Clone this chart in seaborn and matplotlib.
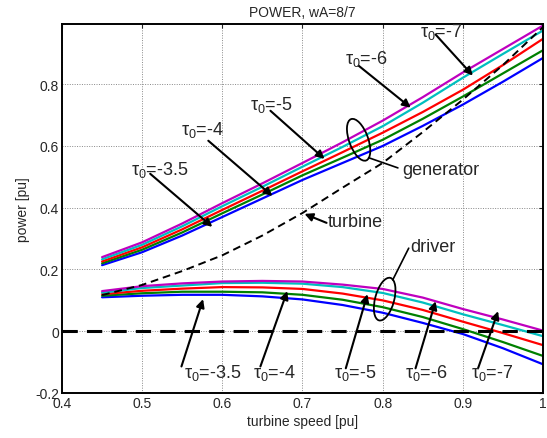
import numpy as np
import pandas as pd
import matplotlib
matplotlib.use("Agg")
import matplotlib.pyplot as plt
from matplotlib.patches import Ellipse
from matplotlib.transforms import IdentityTransform
import seaborn as sns

# ---- data ----
speed = [0.45, 0.50, 0.55, 0.60, 0.65, 0.70, 0.75, 0.80, 0.85, 0.90, 0.95, 1.00]
tau_labels = ["-3.5", "-4", "-5", "-6", "-7"]
colors = ["#0000FF", "#008000", "#FF0000", "#00BFBF", "#BF00BF"]

gen_m35 = [0.214, 0.256, 0.310, 0.370, 0.430, 0.490, 0.545, 0.600, 0.665, 0.734, 0.808, 0.885]
gen_m4 = [0.220, 0.264, 0.320, 0.382, 0.443, 0.505, 0.562, 0.620, 0.688, 0.760, 0.835, 0.910]
gen_m5 = [0.226, 0.272, 0.330, 0.393, 0.455, 0.518, 0.580, 0.643, 0.710, 0.782, 0.862, 0.947]
gen_m6 = [0.233, 0.280, 0.340, 0.405, 0.468, 0.533, 0.597, 0.664, 0.740, 0.821, 0.898, 0.974]
gen_m7 = [0.240, 0.288, 0.349, 0.415, 0.479, 0.545, 0.612, 0.682, 0.758, 0.838, 0.914, 0.990]

drv_m35 = [0.110, 0.115, 0.118, 0.118, 0.113, 0.103, 0.085, 0.060, 0.027, -0.009, -0.055, -0.107]
drv_m4 = [0.115, 0.123, 0.128, 0.128, 0.126, 0.118, 0.102, 0.078, 0.046, 0.007, -0.035, -0.080]
drv_m5 = [0.120, 0.131, 0.138, 0.143, 0.142, 0.137, 0.122, 0.100, 0.069, 0.031, -0.006, -0.045]
drv_m6 = [0.125, 0.140, 0.148, 0.156, 0.157, 0.154, 0.143, 0.124, 0.093, 0.055, 0.020, -0.016]
drv_m7 = [0.130, 0.146, 0.155, 0.161, 0.163, 0.161, 0.151, 0.137, 0.109, 0.072, 0.038, 0.002]

turbine = [0.117, 0.150, 0.195, 0.246, 0.310, 0.383, 0.465, 0.545, 0.645, 0.750, 0.862, 0.985]

zero_x = [0.4, 1.0]
zero_y = [0.0, 0.0]

xticks = [0.4, 0.5, 0.6, 0.7, 0.8, 0.9, 1.0]
xticklabels = ["0.4", "0.5", "0.6", "0.7", "0.8", "0.9", "1"]
yticks = [-0.2, 0.0, 0.2, 0.4, 0.6, 0.8]
yticklabels = ["-0.2", "0", "0.2", "0.4", "0.6", "0.8"]

gen_series = [gen_m35, gen_m4, gen_m5, gen_m6, gen_m7]
drv_series = [drv_m35, drv_m4, drv_m5, drv_m6, drv_m7]

rows = []
for lab, g, d in zip(tau_labels, gen_series, drv_series):
    for x, gv, dv in zip(speed, g, d):
        rows.append({"speed": x, "tau": lab, "kind": "generator", "power": gv})
        rows.append({"speed": x, "tau": lab, "kind": "driver", "power": dv})
df = pd.DataFrame(rows)
df_t = pd.DataFrame({"speed": speed, "power": turbine})

# ---- figure ----
sns.set_style("white")
plt.rcParams["font.family"] = ["Liberation Sans", "DejaVu Sans"]
plt.rcParams["mathtext.fontset"] = "custom"
plt.rcParams["mathtext.rm"] = "Liberation Sans"

fig = plt.figure(figsize=(5.47, 4.39), dpi=100)
ax = fig.add_axes([62 / 547, 1 - 394 / 439, 481 / 547, (394 - 25) / 439])

pal = dict(zip(tau_labels, colors))
for kind in ["generator", "driver"]:
    sns.lineplot(data=df[df.kind == kind], x="speed", y="power", hue="tau",
                 palette=pal, hue_order=tau_labels, estimator=None, sort=False,
                 linewidth=1.6, legend=False, ax=ax)

sns.lineplot(data=df_t, x="speed", y="power", color="k", linewidth=1.4,
             linestyle=(0, (4, 2.5)), estimator=None, legend=False, ax=ax)
ax.plot(zero_x, zero_y, color="k", linewidth=2.2, linestyle=(0, (5, 3)))

ax.set_xlim(0.4, 1.0)
ax.set_ylim(-0.2, 0.995)
ax.set_xticks(xticks)
ax.set_xticklabels(xticklabels)
ax.set_yticks(yticks)
ax.set_yticklabels(yticklabels)
ax.tick_params(direction="in", top=True, right=True, length=3, labelsize=10,
               width=0.8, pad=2)
ax.grid(True, color="#888888", linestyle=(0, (1, 1.5)), linewidth=0.7)
for s in ax.spines.values():
    s.set_linewidth(1.4)
    s.set_color("k")
ax.set_xlabel("turbine speed [pu]", fontsize=10, labelpad=3)
ax.set_ylabel("power [pu]", fontsize=10, labelpad=4)
ax.set_title("POWER, wA=8/7", fontsize=10, pad=6)

arrow = dict(arrowstyle="-|>", color="k", lw=1.5, mutation_scale=12,
             shrinkA=0, shrinkB=0)
fs = 13

def tau_text(lab):
    return r"$\mathregular{\tau_0}$=" + lab

# generator labels: (text xy, arrow start, arrow tip)
gen_ann = [
    ((0.5225, 0.526), (0.51, 0.51), (0.5875, 0.338)),
    ((0.575, 0.656), (0.5825, 0.617), (0.6625, 0.438)),
    ((0.661, 0.737), (0.66, 0.714), (0.7275, 0.558)),
    ((0.779, 0.886), (0.77, 0.86), (0.835, 0.724)),
    ((0.8725, 0.971), (0.866, 0.961), (0.9125, 0.828)),
]
drv_ann = [
    ((0.5875, -0.133), (0.549, -0.114), (0.576, 0.104)),
    ((0.665, -0.133), (0.6475, -0.114), (0.681, 0.130)),
    ((0.766, -0.133), (0.754, -0.12), (0.781, 0.120)),
    ((0.855, -0.133), (0.841, -0.12), (0.866, 0.097)),
    ((0.936, -0.133), (0.919, -0.12), (0.944, 0.065)),
]
for lab, (t, s, p) in zip(tau_labels, gen_ann):
    ax.annotate("", xy=p, xytext=s, arrowprops=arrow)
    ax.text(t[0], t[1], tau_text(lab), fontsize=fs, ha="center", va="center")
for lab, (t, s, p) in zip(tau_labels, drv_ann):
    ax.annotate("", xy=p, xytext=s, arrowprops=arrow)
    ax.text(t[0], t[1], tau_text(lab), fontsize=fs, ha="center", va="center")

# group labels
ax.plot([0.7825, 0.819], [0.562, 0.529], color="k", lw=1.2)
ax.text(0.8725, 0.523, "generator", fontsize=fs, ha="center", va="center")
ax.plot([0.8125, 0.8325], [0.166, 0.269], color="k", lw=1.2)
ax.text(0.8625, 0.273, "driver", fontsize=fs, ha="center", va="center")
ax.annotate("", xy=(0.7025, 0.38), xytext=(0.73, 0.351), arrowprops=arrow)
ax.text(0.766, 0.354, "turbine", fontsize=fs, ha="center", va="center")

# ellipses drawn in pixel units around data anchors
for (cx, cy), ang in [((0.77, 0.62), 20), ((0.8025, 0.104), -15)]:
    px, py = ax.transData.transform((cx, cy))
    e = Ellipse((px, py), width=19, height=44, angle=ang, fill=False,
                edgecolor="k", lw=1.3, transform=IdentityTransform())
    fig.add_artist(e)

fig.savefig("out.png", dpi=100)
